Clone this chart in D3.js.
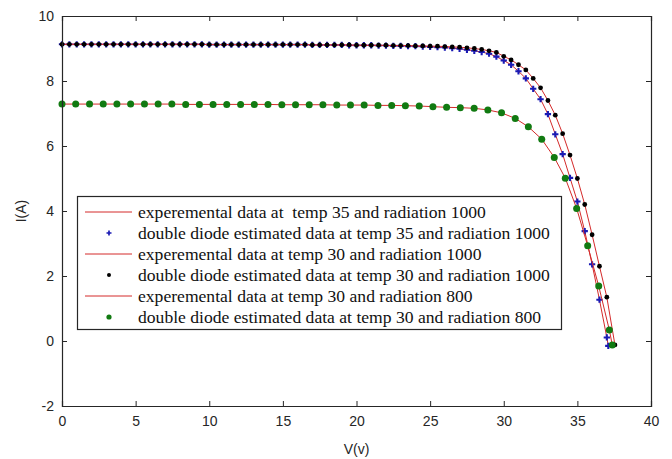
<!DOCTYPE html>
<html><head><meta charset="utf-8">
<script src="https://cdn.jsdelivr.net/npm/d3@7"></script>
<style>body{margin:0;background:#fff}svg{display:block}</style>
</head><body>
<svg id="c" width="672" height="459"></svg>
<script>
// ---- data ----
const xTicks = [0,5,10,15,20,25,30,35,40];
const yTicks = [-2,0,2,4,6,8,10];
const legendLabels = [
  "experemental data at  temp 35 and radiation 1000",
  "double diode estimated data at temp 35 and radiation 1000",
  "experemental data at temp 30 and radiation 1000",
  "double diode estimated data at temp 30 and radiation 1000",
  "experemental data at temp 30 and radiation 800",
  "double diode estimated data at temp 30 and radiation 800"
];
// temp 35, radiation 1000
const v35 = [0,0.5,1,1.5,2,2.5,3,3.5,4,4.5,5,5.5,6,6.5,7,7.5,8,8.5,9,9.5,10,10.5,11,11.5,12,12.5,13,13.5,14,14.5,15,15.5,16,16.5,17,17.5,18,18.5,19,19.5,20,20.5,21,21.5,22,22.5,23,23.5,24,24.5,25,25.5,26,26.5,27,27.5,28,28.5,29,29.5,30,30.5,31,31.5,32,32.5,33,33.5,34,34.5,35,35.5,36,36.5,37,37.1];
const i35 = [9.13,9.13,9.13,9.13,9.13,9.13,9.13,9.13,9.13,9.13,9.13,9.13,9.13,9.13,9.13,9.13,9.13,9.13,9.13,9.13,9.12,9.12,9.12,9.12,9.12,9.12,9.12,9.12,9.12,9.12,9.12,9.12,9.12,9.12,9.11,9.11,9.11,9.11,9.11,9.10,9.10,9.10,9.10,9.09,9.09,9.08,9.08,9.07,9.07,9.06,9.05,9.04,9.03,9.01,8.99,8.96,8.93,8.89,8.84,8.75,8.63,8.50,8.30,8.08,7.76,7.44,6.98,6.36,5.75,5.02,4.29,3.38,2.36,1.27,0.11,-0.15];
// temp 30, radiation 1000
const v30 = [0,0.5,1,1.5,2,2.5,3,3.5,4,4.5,5,5.5,6,6.5,7,7.5,8,8.5,9,9.5,10,10.5,11,11.5,12,12.5,13,13.5,14,14.5,15,15.5,16,16.5,17,17.5,18,18.5,19,19.5,20,20.5,21,21.5,22,22.5,23,23.5,24,24.5,25,25.5,26,26.5,27,27.5,28,28.5,29,29.5,30,30.5,31,31.5,32,32.5,33,33.5,34,34.5,35,35.5,36,36.5,37,37.55];
const i30 = [9.13,9.13,9.13,9.13,9.13,9.13,9.13,9.13,9.13,9.13,9.13,9.13,9.13,9.13,9.13,9.13,9.13,9.13,9.13,9.13,9.12,9.12,9.12,9.12,9.12,9.12,9.12,9.12,9.12,9.12,9.12,9.12,9.12,9.12,9.11,9.11,9.11,9.11,9.11,9.11,9.10,9.10,9.10,9.10,9.10,9.09,9.09,9.09,9.08,9.08,9.07,9.07,9.06,9.05,9.04,9.02,9.00,8.97,8.93,8.88,8.76,8.65,8.50,8.34,8.08,7.79,7.40,6.95,6.38,5.72,5.00,4.20,3.27,2.30,1.35,-0.12];
// temp 30, radiation 800
const v800 = [0,0.93,1.87,2.8,3.73,4.66,5.6,6.53,7.46,8.4,9.33,10.26,11.19,12.13,13.06,13.99,14.93,15.86,16.79,17.72,18.66,19.59,20.52,21.46,22.39,23.32,24.26,25.19,26.12,27.05,27.99,28.92,29.85,30.78,31.67,32.58,33.43,34.18,34.95,35.7,36.45,37.17,37.37];
const i800 = [7.29,7.29,7.29,7.29,7.29,7.29,7.29,7.29,7.29,7.28,7.28,7.28,7.28,7.28,7.28,7.28,7.27,7.27,7.27,7.27,7.26,7.26,7.26,7.25,7.25,7.24,7.23,7.21,7.19,7.18,7.16,7.11,7.02,6.85,6.59,6.21,5.65,5.01,4.08,2.93,1.69,0.34,-0.12];

// ---- layout ----
const svg = d3.select("#c");
const L = 62, R = 651, T = 16, B = 406;
const x = d3.scaleLinear().domain([0,40]).range([L,R]);
const y = d3.scaleLinear().domain([-2,10]).range([B,T]);
const axisCol = "#262626";
const lineCol = "#d42a2a";

const toPts = (vs, is) => vs.map((v,k)=>[v, is[k]]);
const s35 = toPts(v35,i35), s30 = toPts(v30,i30), s800 = toPts(v800,i800);
const line = d3.line().x(d=>x(d[0])).y(d=>y(d[1]));

const plot = svg.append("g");
const starPath = d3.symbol().type(d3.symbolCross).size(22)();
const starSmall = d3.symbol().type(d3.symbolCross).size(14)();
function drawLine(data){
  plot.append("path").attr("d", line(data)).attr("fill","none")
    .attr("stroke", lineCol).attr("stroke-width",1);
}
drawLine(s35);
plot.append("g").selectAll("path").data(s35).join("path")
  .attr("transform", d=>`translate(${x(d[0])},${y(d[1])})`)
  .attr("d", starPath).attr("fill","#1a1ab4");
drawLine(s30);
plot.append("g").selectAll("circle").data(s30).join("circle")
  .attr("cx", d=>x(d[0])).attr("cy", d=>y(d[1])).attr("r",2.4).attr("fill","#000");
drawLine(s800);
plot.append("g").selectAll("circle").data(s800).join("circle")
  .attr("cx", d=>x(d[0])).attr("cy", d=>y(d[1])).attr("r",3.5).attr("fill","#117a11");

// ---- axes ----
const fnt = "'Liberation Sans', Arial, sans-serif";
const fmt = d => String(d);
const axB = svg.append("g").attr("transform",`translate(0,${B})`)
  .call(d3.axisBottom(x).tickValues(xTicks).tickSize(-5).tickPadding(10).tickFormat(fmt));
const axT = svg.append("g").attr("transform",`translate(0,${T})`)
  .call(d3.axisTop(x).tickValues(xTicks).tickSize(-5).tickFormat(""));
const axL = svg.append("g").attr("transform",`translate(${L},0)`)
  .call(d3.axisLeft(y).tickValues(yTicks).tickSize(-5).tickPadding(8).tickFormat(fmt));
const axR = svg.append("g").attr("transform",`translate(${R},0)`)
  .call(d3.axisRight(y).tickValues(yTicks).tickSize(-5).tickFormat(""));
[axB,axT,axL,axR].forEach(a=>{
  a.selectAll(".domain").attr("stroke",axisCol).attr("stroke-width",1.2);
  a.selectAll(".tick line").attr("stroke",axisCol);
  a.selectAll("text").attr("fill",axisCol).style("font-family",fnt).style("font-size","14px");
});
axB.selectAll(".tick text").attr("dy","0.71em");

svg.append("text").attr("x",(L+R)/2).attr("y",454).attr("text-anchor","middle")
  .style("font-family",fnt).style("font-size","14px").attr("fill",axisCol).text("V(v)");
svg.append("text").attr("transform",`translate(26,${(T+B)/2}) rotate(-90)`).attr("text-anchor","middle")
  .style("font-family",fnt).style("font-size","14px").attr("fill",axisCol).text("I(A)");

// ---- legend ----
const lg = svg.append("g");
lg.append("rect").attr("x",77.5).attr("y",196.5).attr("width",484).attr("height",133)
  .attr("fill","#fff").attr("stroke",axisCol).attr("stroke-width",1.2);
const rowY = d3.scalePoint().domain(d3.range(legendLabels.length)).range([212,317]);
legendLabels.forEach((t,k)=>{
  const yy = rowY(k);
  if(k%2===0){
    lg.append("line").attr("x1",85).attr("x2",132).attr("y1",yy).attr("y2",yy)
      .attr("stroke",lineCol).attr("stroke-width",1);
  } else if(k===1){
    lg.append("path").attr("transform",`translate(109,${yy})`).attr("d",starSmall).attr("fill","#1a1ab4");
  } else if(k===3){
    lg.append("circle").attr("cx",109).attr("cy",yy).attr("r",2).attr("fill","#000");
  } else {
    lg.append("circle").attr("cx",109).attr("cy",yy).attr("r",2.6).attr("fill","#117a11");
  }
  lg.append("text").attr("x",138).attr("y",yy).attr("dy","0.32em")
    .style("font-family","'Liberation Serif','Times New Roman',serif").style("font-size","17.6px")
    .style("white-space","pre").attr("fill","#111").text(t);
});
</script>
</body></html>
